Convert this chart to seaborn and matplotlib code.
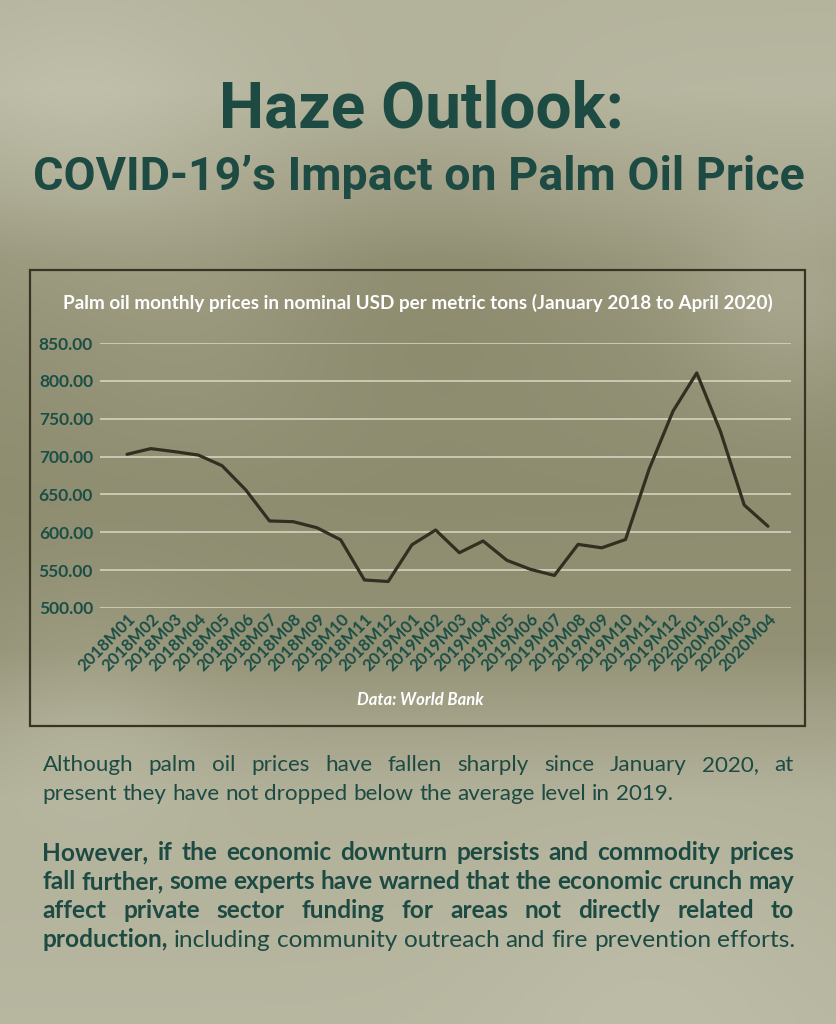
import numpy as np
import pandas as pd
import matplotlib
matplotlib.use("Agg")
import matplotlib.pyplot as plt
import seaborn as sns
from matplotlib.patches import Rectangle

# ----- data -----
months = ["2018M01", "2018M02", "2018M03", "2018M04", "2018M05", "2018M06",
          "2018M07", "2018M08", "2018M09", "2018M10", "2018M11", "2018M12",
          "2019M01", "2019M02", "2019M03", "2019M04", "2019M05", "2019M06",
          "2019M07", "2019M08", "2019M09", "2019M10", "2019M11", "2019M12",
          "2020M01", "2020M02", "2020M03", "2020M04"]
prices = [703, 710.5, 706.5, 702, 688, 656, 615, 614, 606, 590, 537, 535,
          583.5, 603, 573, 588.5, 563, 551, 543, 584, 579.5, 590.5,
          684, 760, 810.5, 733, 636, 608]
y_ticks = [500, 550, 600, 650, 700, 750, 800, 850]

title = "Haze Outlook:"
subtitle = "COVID-19\u2019s Impact on Palm Oil Price"
chart_title = "Palm oil monthly prices in nominal USD per metric tons (January 2018 to April 2020)"
source = "Data: World Bank"
para1 = ["Although palm oil prices have fallen sharply since January 2020, at",
         "present they have not dropped below the average level in 2019."]
para2 = ["However, if the economic downturn persists and commodity prices",
         "fall further, some experts have warned that the economic crunch may",
         "affect private sector funding for areas not directly related to"]
para2_last_bold = "production,"
para2_last_rest = "including community outreach and fire prevention efforts."

TEAL = "#1d4b43"
TICK_TEAL = "#1b4f46"
LINE = "#342e21"
W, H = 837, 1024

sns.set_theme(style="white")
plt.rcParams["font.family"] = ["Lato", "DejaVu Sans"]

fig = plt.figure(figsize=(W / 100, H / 100), dpi=100)


def fx(x):
    return x / W


def fy(y):
    return 1 - y / H


# ----- hazy background -----
yy, xx = np.mgrid[0:H, 0:W]
field = np.interp(yy, [0, 90, 200, 260, 350, 500, 650, 720, 800, 1024],
                  [0.8, 0.85, 0.55, 0.3, 0.2, 0.12, 0.2, 0.5, 0.75, 0.85])
for bx, by, r, a in [(80, 120, 90, 0.15), (790, 300, 70, 0.3), (90, 700, 80, 0.2),
                     (650, 990, 120, 0.1), (420, 230, 120, -0.15), (200, 320, 100, 0.1)]:
    field += a * np.exp(-((xx - bx) ** 2 + (yy - by) ** 2) / (2 * r ** 2))
field = np.clip(field, 0, 1)
dark = np.array([0x88, 0x86, 0x68]) / 255
light = np.array([0xc0, 0xbf, 0xaa]) / 255
img = dark + field[..., None] * (light - dark)
bg = fig.add_axes([0, 0, 1, 1], zorder=-10)
bg.imshow(img, aspect="auto", extent=[0, W, H, 0])
bg.axis("off")

# ----- headings -----
fig.text(fx(421), fy(128), title, ha="center", va="baseline", fontsize=46,
         fontweight="bold", family=["Roboto", "DejaVu Sans"], color=TEAL)
fig.text(fx(419), fy(190), subtitle, ha="center", va="baseline", fontsize=33.5,
         fontweight="bold", family=["Roboto", "DejaVu Sans"], color=TEAL)

# ----- chart frame -----
fig.patches.append(Rectangle((fx(30), fy(726)), (805 - 30) / W, (726 - 270) / H,
                             transform=fig.transFigure, fill=False,
                             ec="#3a3324", lw=1.6))
fig.text(fx(418), fy(303), chart_title, ha="center", va="center", fontsize=13.6,
         fontweight="bold", color="white")
fig.text(fx(420), fy(700), source, ha="center", va="center", fontsize=12,
         fontweight="bold", style="italic", color="white")

# ----- line chart -----
df = pd.DataFrame({"pos": np.arange(len(months)), "month": months, "price": prices})
ax = fig.add_axes([fx(100), fy(608), (791 - 100) / W, (608 - 343) / H])
ax.patch.set_alpha(0)
sns.lineplot(data=df, x="pos", y="price", ax=ax, color=LINE, lw=2.3, sort=False)
ax.set_ylim(500, 850)
ax.set_xlim(-1.14, 27.97)
ax.set_yticks(y_ticks)
ax.set_yticklabels([f"{v:.2f}" for v in y_ticks], fontsize=12.5,
                   fontweight="bold", color=TICK_TEAL)
ax.set_xticks(df["pos"])
ax.set_xticklabels(months, rotation=45, ha="right", rotation_mode="anchor",
                   fontsize=12, fontweight="bold", color=TICK_TEAL)
ax.grid(axis="y", color="#dcd8c2", lw=1.1)
ax.grid(axis="x", visible=False)
ax.tick_params(axis="y", length=0, pad=5)
ax.tick_params(axis="x", length=0, pad=2)
ax.set_xlabel("")
ax.set_ylabel("")
for s in ax.spines.values():
    s.set_visible(False)

# ----- body text (justified) -----
renderer = fig.canvas.get_renderer()
X0, X1 = 42.5, 794


def measure(txt, weight, size):
    t = fig.text(0, 0, txt, fontsize=size, fontweight=weight)
    w = t.get_window_extent(renderer).width
    t.remove()
    return w


def put_line(segments, y, size, justify):
    items = []
    for txt, wt in segments:
        for word in txt.split():
            t = fig.text(0, fy(y), word, fontsize=size, fontweight=wt, color=TEAL,
                         ha="left", va="baseline")
            items.append((t, t.get_window_extent(renderer).width))
    total = sum(w for _, w in items)
    space = measure("a a", "normal", size) - measure("aa", "normal", size)
    if justify:
        gap = max((X1 - X0 - total) / (len(items) - 1), space * 0.6)
    else:
        gap = space
    x = X0
    for t, w in items:
        t.set_x(fx(x))
        x += w + gap


P1, P2 = 16.1, 17.6
put_line([(para1[0], "normal")], 771, P1, True)
put_line([(para1[1], "normal")], 800.5, P1, False)
for i, line in enumerate(para2):
    put_line([(line, "bold")], 860 + 29.1 * i, P2, True)
put_line([(para2_last_bold, "bold"), (para2_last_rest, "normal")], 947.3, P2, False)

fig.savefig("out.png", dpi=100)
